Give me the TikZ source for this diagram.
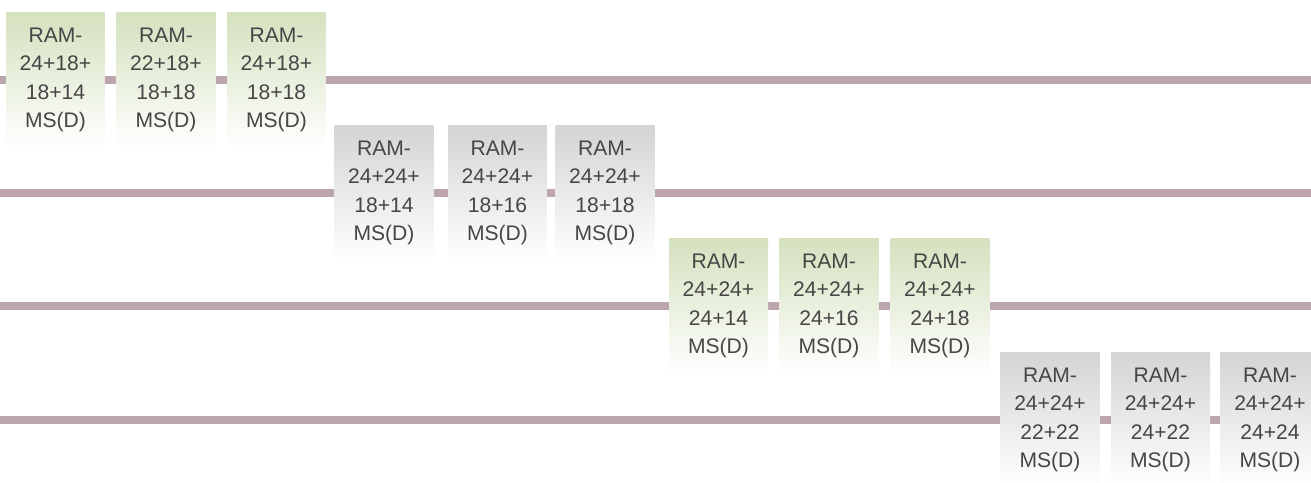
\documentclass[tikz,border=0pt]{standalone}
\usepackage{fontspec}
\setmainfont{Liberation Sans}
\definecolor{ramgreen}{RGB}{212,225,190}
\definecolor{ramgray}{RGB}{212,212,212}
\definecolor{railcol}{RGB}{189,165,175}
\definecolor{ramtext}{RGB}{70,70,70}

\begin{document}
\begin{tikzpicture}[x=0.02cm,y=-0.02cm,
  ram/.style={minimum width=1.98cm,minimum height=2.72cm,inner sep=0pt,align=center,
    text=ramtext,font=\fontsize{12}{16.2}\selectfont},
  rail/.style={line width=4pt,draw=railcol}]
  \useasboundingbox (0,0) rectangle (1311,483);
  \foreach \y/\r in {80/1,193/2,306/3,420/4}{
    \coordinate (left\r) at (0,\y);
    \coordinate (right\r) at (1311,\y);
    \draw[rail] (left\r) -- (right\r);}
  \foreach \x/\y/\col/\a/\b/\n in {55.5/80/ramgreen/24+18+/18+14/1,166/80/ramgreen/22+18+/18+18/2,
      276.5/80/ramgreen/24+18+/18+18/3,384/193/ramgray/24+24+/18+14/4,497.5/193/ramgray/24+24+/18+16/5,
      605/193/ramgray/24+24+/18+18/6,718.5/306/ramgreen/24+24+/24+14/7,829/306/ramgreen/24+24+/24+16/8,
      940/306/ramgreen/24+24+/24+18/9,1050/420/ramgray/24+24+/22+22/10,1160.5/420/ramgray/24+24+/24+22/11,
      1270/420/ramgray/24+24+/24+24/12}
    \node[ram,top color=\col,bottom color=white] (ram\n) at (\x,\y) {RAM-\\\a\\\b\\MS(D)};
\end{tikzpicture}
\end{document}
